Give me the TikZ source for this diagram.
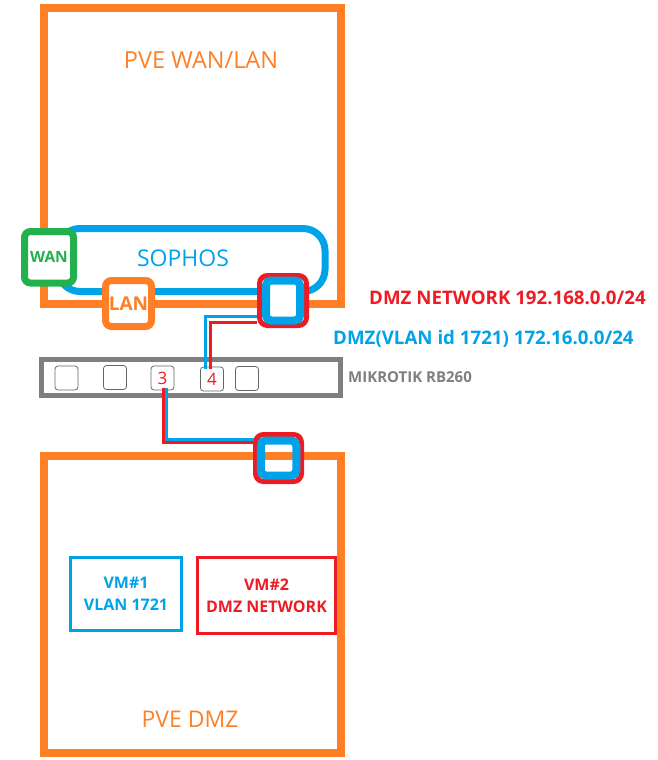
\documentclass[tikz,border=0pt]{standalone}
\usepackage{fontspec}
\setmainfont{Open Sans}
\usetikzlibrary{positioning, calc}
\definecolor{pveOrange}{HTML}{FF7F27}
\definecolor{vlanBlue}{HTML}{00A2E8}
\definecolor{dmzRed}{HTML}{ED1C24}
\definecolor{wanGreen}{HTML}{22B14C}
\definecolor{swGray}{HTML}{7F7F7F}

\begin{document}
\begin{tikzpicture}[x=1pt, y=-1pt, box/.style={draw, rectangle, inner sep=0pt}, port/.style={draw=swGray!80!black, line width=0.8pt, rounded corners=3pt, minimum width=23pt, minimum height=24pt, inner sep=0pt, text=dmzRed, font=\fontsize{17}{17}\selectfont}, cable/.style={line width=3pt}, tag/.style={inner sep=0pt, anchor=west, font=\bfseries\fontsize{18.7}{18.7}\selectfont}, vm/.style={box, line width=3pt, align=center, font=\bfseries\fontsize{16}{22}\selectfont}]
\useasboundingbox (0,0) rectangle (657,760);
\node[box, draw=pveOrange, line width=8pt, minimum width=297pt, minimum height=295.5pt] (pvewan) at (192.5,155.75) {};
\node[text=pveOrange, font=\fontsize{23.5}{23.5}\selectfont] (pvewanlbl) at (201,60) {PVE WAN/LAN};
\node[box, draw=pveOrange, line width=8pt, minimum width=297pt, minimum height=297.5pt] (pvedmz) at (192.5,604.25) {};
\node[text=pveOrange, font=\fontsize{23}{23}\selectfont] (pvedmzlbl) at (190,719) {PVE DMZ};
\node[box, draw=vlanBlue, line width=7pt, rounded corners=22pt, minimum width=267pt, minimum height=63pt] (sophos) at (191.5,260) {};
\node[text=vlanBlue, font=\fontsize{23}{23}\selectfont] (sophoslbl) at (183,258) {SOPHOS};
\node[box, draw=wanGreen, fill=white, line width=7pt, rounded corners=6pt, minimum width=49pt, minimum height=51.5pt, text=wanGreen, font=\bfseries\fontsize{15.5}{15.5}\selectfont] (wan) at (49,257.25) {WAN};
\node[box, draw=pveOrange, fill=white, line width=7pt, rounded corners=6pt, minimum width=46pt, minimum height=46pt, text=pveOrange, font=\bfseries\fontsize{19}{19}\selectfont] (lan) at (128.5,303.5) {LAN};
\node[box, draw=dmzRed, fill=white, line width=5pt, rounded corners=8pt, minimum width=47pt, minimum height=50pt] (wanport) at (283,300.5) {};
\node[box, draw=vlanBlue, line width=8pt, rounded corners=5pt, minimum width=34pt, minimum height=40pt] (wanportin) at (wanport.center) {};
\node[box, draw=swGray, line width=5pt, minimum width=299pt, minimum height=36pt] (rb260) at (191,377.5) {};
\node[tag, text=swGray, font=\bfseries\fontsize{15}{15}\selectfont, right=5pt of rb260.east] (rb260lbl) {MIKROTIK RB260};
\node[port] (p1) at (66.5,378) {};
\node[port] (p2) at (115,377.5) {};
\node[port] (p3) at (162.5,378) {3};
\node[port] (p4) at (212,379) {4};
\node[port] (p5) at (247,378.5) {};
\node[box, draw=dmzRed, line width=5pt, rounded corners=8pt, minimum width=46pt, minimum height=47pt] (dmzport) at (278.5,458) {};
\node[box, draw=vlanBlue, line width=8pt, rounded corners=5pt, minimum width=35.5pt, minimum height=35pt] (dmzportin) at (dmzport.center) {};
\draw[cable, vlanBlue] ($(wanport.west)+(0,16)$) -| ($(p4.north)+(-7,2)$);
\draw[cable, dmzRed] ($(wanport.west)+(0,22)$) -| ($(p4.north)+(-1.5,2)$);
\draw[cable, vlanBlue] ($(p3.south)+(4,-2)$) |- ($(dmzport.west)+(1,-18.5)$);
\draw[cable, dmzRed] ($(p3.south)+(1,-2)$) |- ($(dmzport.west)+(1,-15.5)$);
\node[tag, text=dmzRed] (dmznet) at (369,298) {DMZ NETWORK 192.168.0.0/24};
\node[tag, text=vlanBlue] (dmzvlan) at (333,339) {DMZ(VLAN id 1721) 172.16.0.0/24};
\node[vm, draw=vlanBlue, text=vlanBlue, minimum width=111pt, minimum height=73pt] (vm1) at (126,594) {VM\#1\\VLAN 1721};
\node[vm, draw=dmzRed, text=dmzRed, minimum width=138pt, minimum height=76pt] (vm2) at (266.5,595.5) {VM\#2\\DMZ NETWORK};
\end{tikzpicture}
\end{document}
